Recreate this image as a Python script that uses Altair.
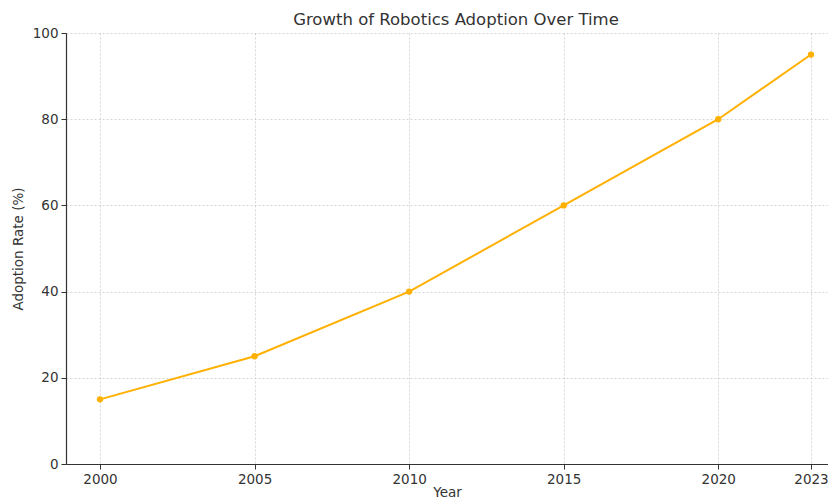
import altair as alt
import pandas as pd

years = [2000, 2005, 2010, 2015, 2020, 2023]
adoption = [15, 25, 40, 60, 80, 95]
x_ticks = [2000, 2005, 2010, 2015, 2020, 2023]
y_ticks = [0, 20, 40, 60, 80, 100]

df = pd.DataFrame({"Year": years, "Adoption": adoption})

color = "#FFB000"
font = "DejaVu Sans"

x = alt.X("Year:Q", scale=alt.Scale(domain=[1998.9, 2023.55], nice=False, zero=False),
          axis=alt.Axis(values=x_ticks, format="d", title="Year"))
y = alt.Y("Adoption:Q", scale=alt.Scale(domain=[0, 100], nice=False),
          axis=alt.Axis(values=y_ticks, title="Adoption Rate (%)"))

base = alt.Chart(df).encode(x=x, y=y)
line = base.mark_line(color=color, strokeWidth=2)
pts = base.mark_circle(color=color, size=40, opacity=1)

chart = (line + pts).properties(
    width=762, height=431,
    autosize=alt.AutoSizeParams(type="none"),
    padding={"left": 58, "top": 25, "right": 0, "bottom": 35},
    title=alt.TitleParams("Growth of Robotics Adoption Over Time", font=font, fontSize=16.5,
                          fontWeight="normal", color="#333333", anchor="middle", dx=9, offset=-2),
).configure_view(stroke=None).configure_axis(
    labelFont=font, titleFont=font, labelFontSize=13.5, titleFontSize=13.5,
    labelColor="#333333", titleColor="#333333", titleFontWeight="normal",
    domainColor="#333333", domainWidth=1.2, tickColor="#333333", tickSize=5,
    gridColor="#cccccc", gridDash=[2, 2], gridWidth=0.8, labelPadding=3,
).configure_axisY(titlePadding=7).configure_axisX(titlePadding=0, labelPadding=3)

chart.save("out.html", embed_options={"renderer": "svg", "actions": False})
